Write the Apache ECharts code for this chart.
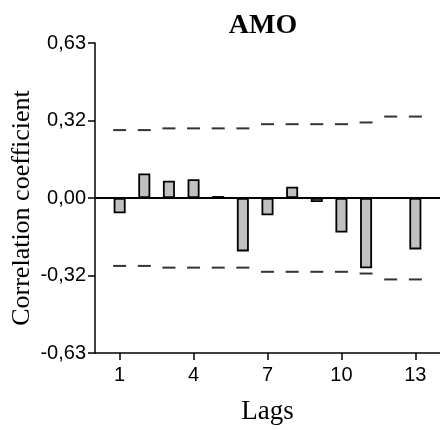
<!DOCTYPE html>
<html>
<head>
<meta charset="utf-8">
<script src="https://cdn.jsdelivr.net/npm/echarts@6/dist/echarts.min.js"></script>
<style>html,body{margin:0;padding:0;background:#fff;}#c{width:440px;height:430px;}</style>
</head>
<body>
<div id="c"></div>
<script>
var lags = [1,2,3,4,5,6,7,8,9,10,11,12,13];
var acf = [-0.062,0.100,0.070,0.076,0.008,-0.217,-0.070,0.046,-0.016,-0.140,-0.286,0,-0.209];
var bound = [0.276,0.276,0.283,0.283,0.283,0.283,0.300,0.300,0.300,0.300,0.307,0.331,0.331];
var xTicks = [1,4,7,10,13];
var yTicks = [-0.63,-0.315,0,0.315,0.63];
var yTickLabels = ['-0,63','-0,32','0,00','0,32','0,63'];

var chart = echarts.init(document.getElementById('c'));
var upper = lags.map(function(l,i){return [l, bound[i]];});
var lower = lags.map(function(l,i){return [l, -bound[i]];});
var bars = lags.map(function(l,i){return [l, acf[i]];});
var seg = {type:'scatter', symbol:'rect', symbolSize:[13,2], itemStyle:{color:'#000'}, silent:true, z:3};

chart.setOption({
  animation:false,
  backgroundColor:'#fff',
  title:{text:'AMO', left:258, top:7, textAlign:'center',
    textStyle:{fontFamily:'Liberation Serif', fontWeight:'bold', fontSize:28, color:'#000'}},
  grid:{left:95, right:0, top:43, bottom:77, outerBoundsMode:'none', containLabel:false},
  graphic:[{type:'text', x:22, y:208, rotation:Math.PI/2, silent:true,
    style:{text:'Correlation coefficient', fontFamily:'Liberation Serif', fontSize:26, fill:'#000',
      align:'center', verticalAlign:'middle'}}],
  xAxis:{type:'value', min:0, max:14,
    name:'Lags', nameLocation:'middle', nameGap:45,
    nameTextStyle:{fontFamily:'Liberation Serif', fontSize:27, color:'#000'},
    axisLine:{show:true, onZero:false, lineStyle:{color:'#000', width:1.5}},
    axisTick:{show:true, length:7, customValues:xTicks, lineStyle:{color:'#000', width:1.5}},
    axisLabel:{customValues:xTicks, margin:12, fontFamily:'Liberation Sans', fontSize:20, color:'#000'},
    splitLine:{show:false}},
  yAxis:{type:'value', min:-0.63, max:0.63,
    axisLine:{show:true, onZero:false, lineStyle:{color:'#000', width:1.5}},
    axisTick:{show:true, length:7, customValues:yTicks, lineStyle:{color:'#000', width:1.5}},
    axisLabel:{customValues:yTicks, margin:9, fontFamily:'Liberation Sans', fontSize:20, color:'#000',
      padding:[0,0,4,0],
      formatter:function(v){var i=yTicks.findIndex(function(t){return Math.abs(t-v)<1e-6;});return i>=0?yTickLabels[i]:'';}},
    splitLine:{show:false}},
  series:[
    {type:'bar', data:bars, barWidth:12,
      itemStyle:{color:'#c0c0c0', borderColor:'#000', borderWidth:1.8},
      markLine:{silent:true, symbol:'none', label:{show:false},
        lineStyle:{color:'#000', width:2, type:'solid'}, data:[{yAxis:0}]}},
    Object.assign({data:upper}, seg),
    Object.assign({data:lower}, seg)
  ]
});
</script>
</body>
</html>
